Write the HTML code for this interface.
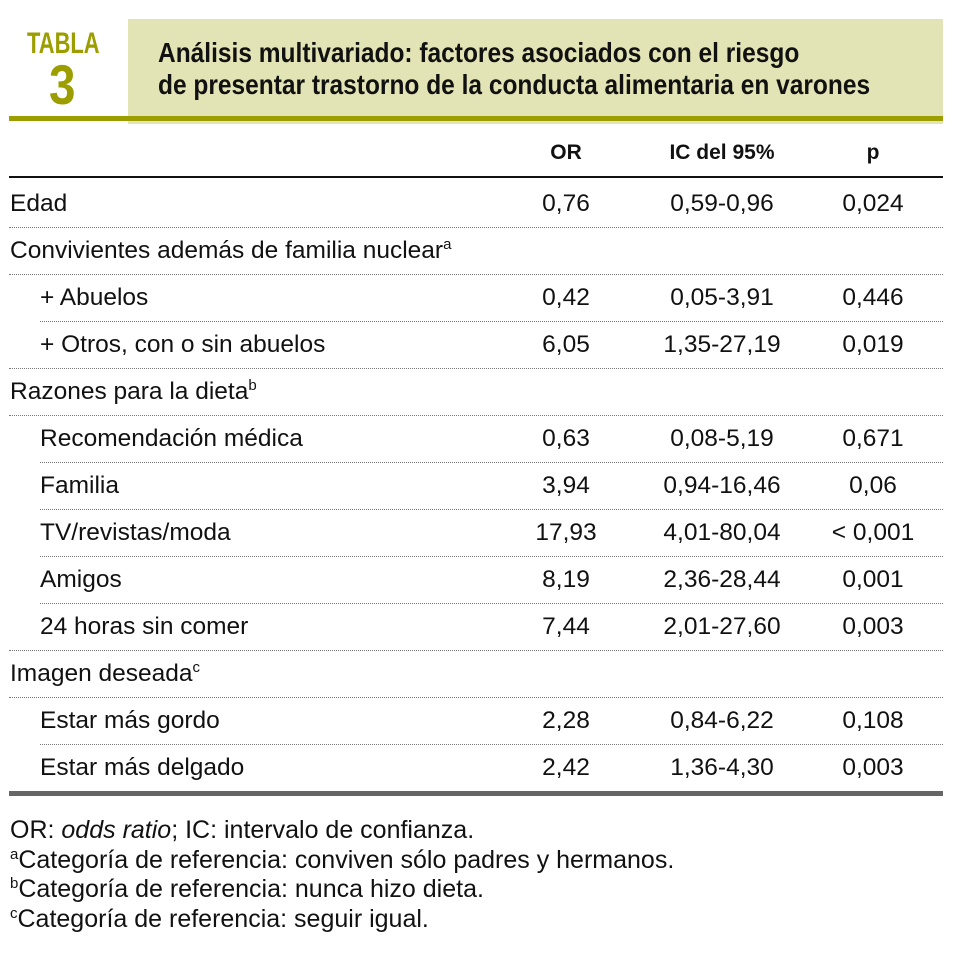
<!DOCTYPE html>
<html><head><meta charset="utf-8"><style>
body{margin:0;background:#fff;width:964px;height:976px;position:relative;overflow:hidden;font-family:"Liberation Sans Narrow","Liberation Sans",sans-serif;color:#111}
.a{position:absolute;white-space:nowrap}
.band{position:absolute;left:128px;top:19px;width:815px;height:105px;background:#e3e4b6}
.ol{position:absolute;left:9px;top:116px;width:934px;height:5px;background:#9c9e00}
.tabla{left:27px;top:27px;font-size:30px;font-weight:bold;color:#9c9e00;transform:scaleX(0.73);transform-origin:0 0}
.num{left:49px;top:52px;font-size:56px;font-weight:bold;color:#9c9e00;transform:scaleX(0.85);transform-origin:0 0}
.title{left:158px;top:37px;font-size:28px;font-weight:bold;line-height:32px;transform:scaleX(0.875);transform-origin:0 0}
.row{position:absolute;left:0;width:964px;height:47px;font-size:24.5px;line-height:47px}
.row span{position:absolute}
.c1{left:506px;width:120px;text-align:center}
.c2{left:652px;width:140px;text-align:center}
.c3{left:813px;width:120px;text-align:center}
.sep{position:absolute;height:0;border-top:1px dotted #777;right:21px}
sup{font-size:15px;vertical-align:9px;line-height:0}
</style></head><body>
<div class="band"></div>
<div class="ol"></div>
<div class="a tabla">TABLA</div>
<div class="a num">3</div>
<div class="a title">Análisis multivariado: factores asociados con el riesgo<br>de presentar trastorno de la conducta alimentaria en varones</div>
<div class="row" style="top:129px;font-weight:bold;font-size:21px"><span class="c1">OR</span><span class="c2">IC del 95%</span><span class="c3">p</span></div>
<div class="a" style="left:9px;top:176px;width:934px;height:2px;background:#111"></div>
<div id="rows"></div>
<div class="a" style="left:9px;top:791px;width:934px;height:5px;background:#666"></div>
<div class="a" style="left:10px;top:816px;font-size:25px;line-height:29.5px">OR: <i>odds ratio</i>; IC: intervalo de confianza.<br><sup>a</sup>Categoría de referencia: conviven sólo padres y hermanos.<br><sup>b</sup>Categoría de referencia: nunca hizo dieta.<br><sup>c</sup>Categoría de referencia: seguir igual.</div>
<script>
const labels=["Edad","Convivientes además de familia nuclear<sup>a</sup>","+ Abuelos","+ Otros, con o sin abuelos","Razones para la dieta<sup>b</sup>","Recomendación médica","Familia","TV/revistas/moda","Amigos","24 horas sin comer","Imagen deseada<sup>c</sup>","Estar más gordo","Estar más delgado"];
const orv=["0,76","","0,42","6,05","","0,63","3,94","17,93","8,19","7,44","","2,28","2,42"];
const ic=["0,59-0,96","","0,05-3,91","1,35-27,19","","0,08-5,19","0,94-16,46","4,01-80,04","2,36-28,44","2,01-27,60","","0,84-6,22","1,36-4,30"];
const pv=["0,024","","0,446","0,019","","0,671","0,06","< 0,001","0,001","0,003","","0,108","0,003"];
const sub=[0,0,1,1,0,1,1,1,1,1,0,1,1];
const host=document.getElementById('rows');
labels.forEach((l,i)=>{
  const top=180+i*47;
  if(i>0){
    const s=document.createElement('div');
    s.className='sep';
    
    
    s.style.top=top+'px';
    s.style.left=(sub[i]&&sub[i-1]?40:9)+'px';
    host.appendChild(s);
  }
  const r=document.createElement('div');
  r.className='row';
  
  
  r.style.top=top+'px';
  r.innerHTML='<span style="left:'+(sub[i]?40:10)+'px">'+l+'</span><span class="c1">'+orv[i]+'</span><span class="c2">'+ic[i]+'</span><span class="c3">'+pv[i]+'</span>';
  host.appendChild(r);
});
</script>
</body></html>
